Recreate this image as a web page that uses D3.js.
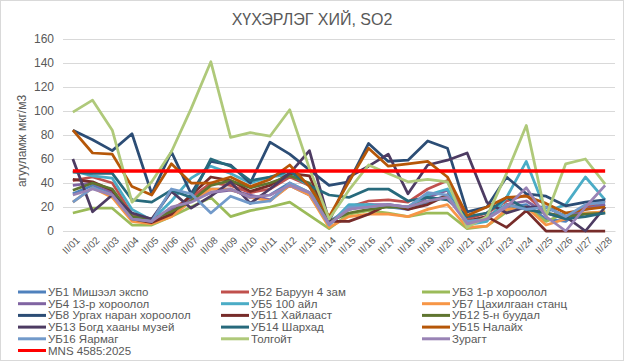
<!DOCTYPE html>
<html lang="mn">
<head>
    <meta charset="UTF-8">
    <title>ХҮХЭРЛЭГ ХИЙ, SO2</title>
    <script src="https://d3js.org/d3.v7.min.js"></script>
    <style>
        body { margin: 0; background: #fff; }
        svg text { font-family: "Liberation Sans", Arial, sans-serif; fill: #595959; }
    </style>
</head>
<body>
    <div id="chart"></div>
    <script>
        // Dates
        const days = ["II/01","II/02","II/03","II/04","II/05","II/06","II/07","II/08","II/09","II/10",
                      "II/11","II/12","II/13","II/14","II/15","II/16","II/17","II/18","II/19","II/20",
                      "II/21","II/22","II/23","II/24","II/25","II/26","II/27","II/28"];
        const yTicks = [0, 20, 40, 60, 80, 100, 120, 140, 160];

        // Series (µg/m3)
        const ub1  = [31,38,30,12,8,15,30,35,35,28,30,40,32,8,18,22,20,18,24,30,8,12,20,22,10,8,20,22];
        const ub2  = [42,45,40,14,10,18,28,40,38,32,35,45,38,6,20,25,26,24,35,42,10,15,25,30,15,10,20,25];
        const ub3  = [15,19,19,5,5,12,20,28,12,17,20,24,13,2,14,17,15,12,15,15,2,4,16,20,8,15,15,16];
        const ub4  = [38,40,32,12,8,18,26,32,34,30,26,38,30,6,18,22,22,20,28,34,6,12,22,25,15,12,18,22];
        const ub5  = [50,46,44,18,9,25,44,54,48,40,45,47,38,5,22,22,20,20,30,35,5,8,28,58,16,22,45,26];
        const ub7  = [24,36,28,8,6,12,25,35,35,28,25,38,30,3,12,14,14,12,18,22,3,4,18,20,5,10,15,16];
        const ub8  = [84,76,67,81,31,66,31,58,55,40,74,64,51,38,41,73,58,59,75,69,16,20,45,31,29,21,24,26];
        const ub11 = [43,41,34,10,7,14,30,45,42,33,38,48,46,8,8,14,22,18,22,30,8,12,3,17,0,0,0,0];
        const ub12 = [34,40,35,12,10,16,25,38,42,36,40,46,40,8,15,18,20,20,25,28,8,10,22,18,15,12,14,15];
        const ub13 = [60,16,30,15,10,33,19,29,41,23,35,48,67,8,45,54,64,31,55,59,65,24,15,20,20,12,0,20];
        const ub14 = [49,48,48,26,24,34,28,60,54,42,45,50,38,30,28,35,35,25,28,26,12,15,28,18,15,10,12,15];
        const ub15 = [84,65,64,37,30,56,40,40,45,37,43,55,37,12,41,69,54,56,58,45,13,20,28,29,23,15,18,20];
        const ub16 = [24,36,30,10,8,35,31,15,29,23,25,40,32,5,20,20,22,20,32,30,8,10,22,18,20,12,22,24];
        const tolgoit = [99,109,84,24,41,66,102,141,78,82,79,101,52,10,34,55,48,41,43,41,3,12,48,88,12,56,60,39];
        const zuragt  = [30,35,30,10,8,20,24,32,35,28,30,38,32,6,18,20,22,20,25,28,6,10,20,36,12,0,20,38];
        const mns  = days.map(() => 50);

        const series = [
            { name: "УБ1 Мишээл  экспо", values: ub1, color: "#4f81bd" },
            { name: "УБ2 Баруун  4 зам", values: ub2, color: "#c0504d" },
            { name: "УБ3 1-р хороолол", values: ub3, color: "#9bbb59" },
            { name: "УБ4 13-р хороолол", values: ub4, color: "#8064a2" },
            { name: "УБ5 100 айл", values: ub5, color: "#4bacc6" },
            { name: "УБ7 Цахилгаан станц", values: ub7, color: "#f79646" },
            { name: "УБ8 Ургах наран хороолол", values: ub8, color: "#2c4d75" },
            { name: "УБ11 Хайлааст", values: ub11, color: "#772c2a" },
            { name: "УБ12 5-н буудал", values: ub12, color: "#5f7530" },
            { name: "УБ13 Богд хааны музей", values: ub13, color: "#4d3b62" },
            { name: "УБ14 Шархад", values: ub14, color: "#276a7c" },
            { name: "УБ15 Налайх", values: ub15, color: "#b65708" },
            { name: "УБ16 Яармаг", values: ub16, color: "#729aca" },
            { name: "Толгойт", values: tolgoit, color: "#afc97a" },
            { name: "Зурагт", values: zuragt, color: "#9983b5" },
            { name: "MNS 4585:2025", values: mns, color: "#ff0000" }
        ];

        const W = 624, H = 361;
        const plot = { left: 63, right: 615, top: 39, bottom: 231 };

        const svg = d3.select("#chart").append("svg")
            .attr("width", W)
            .attr("height", H);

        // chart border
        svg.append("rect")
            .attr("x", 0.5).attr("y", 0.5)
            .attr("width", W - 1).attr("height", H - 1)
            .attr("fill", "#fff").attr("stroke", "#d9d9d9");

        const x = d3.scalePoint()
            .domain(days)
            .range([plot.left, plot.right])
            .padding(0.5);

        const y = d3.scaleLinear()
            .domain([0, 160])
            .range([plot.bottom, plot.top]);

        // gridlines + y labels
        const yAxis = svg.append("g")
            .attr("transform", `translate(${plot.left},0)`)
            .call(d3.axisLeft(y).tickValues(yTicks).tickSize(-(plot.right - plot.left)).tickPadding(9));
        yAxis.select(".domain").remove();
        yAxis.selectAll(".tick line").attr("stroke", "#d9d9d9");
        yAxis.selectAll(".tick text").attr("font-size", 12).style("fill", "#595959");

        // x labels
        const xAxis = svg.append("g")
            .attr("transform", `translate(0,${plot.bottom})`)
            .call(d3.axisBottom(x).tickSize(0));
        xAxis.select(".domain").attr("stroke", "#d9d9d9");
        xAxis.selectAll(".tick text")
            .attr("font-size", 10)
            .style("fill", "#595959")
            .style("text-anchor", "end")
            .attr("y", 0)
            .attr("dy", 0)
            .attr("transform", "translate(7,10) rotate(-45)");

        // lines
        const line = d3.line()
            .x((d, i) => x(days[i]))
            .y(d => y(d));

        svg.append("g").selectAll("path")
            .data(series)
            .enter().append("path")
            .attr("d", d => line(d.values))
            .attr("fill", "none")
            .attr("stroke", d => d.color)
            .attr("stroke-width", d => d.name.startsWith("MNS") ? 3.5 : 2.75)
            .attr("stroke-linejoin", "round");

        // title
        svg.append("text")
            .attr("x", W / 2)
            .attr("y", 25)
            .attr("text-anchor", "middle")
            .attr("font-size", 16)
            .text("ХҮХЭРЛЭГ ХИЙ, SO2");

        // y axis label
        svg.append("text")
            .attr("transform", `translate(26,${(plot.top + plot.bottom) / 2 + 6}) rotate(-90)`)
            .attr("text-anchor", "middle")
            .attr("font-size", 12)
            .text("агууламж мкг/м3");

        // legend, 3 columns
        const colX = [18, 221, 422];
        const legend = svg.append("g").selectAll("g")
            .data(series)
            .enter().append("g")
            .attr("transform", (d, i) => `translate(${colX[i % 3]},${292 + Math.floor(i / 3) * 11.7})`);
        legend.append("line")
            .attr("x1", 0).attr("x2", 28)
            .attr("stroke", d => d.color)
            .attr("stroke-width", 3);
        legend.append("text")
            .attr("x", 30)
            .attr("dy", "0.35em")
            .attr("font-size", 11.5)
            .text(d => d.name);
    </script>
</body>
</html>
